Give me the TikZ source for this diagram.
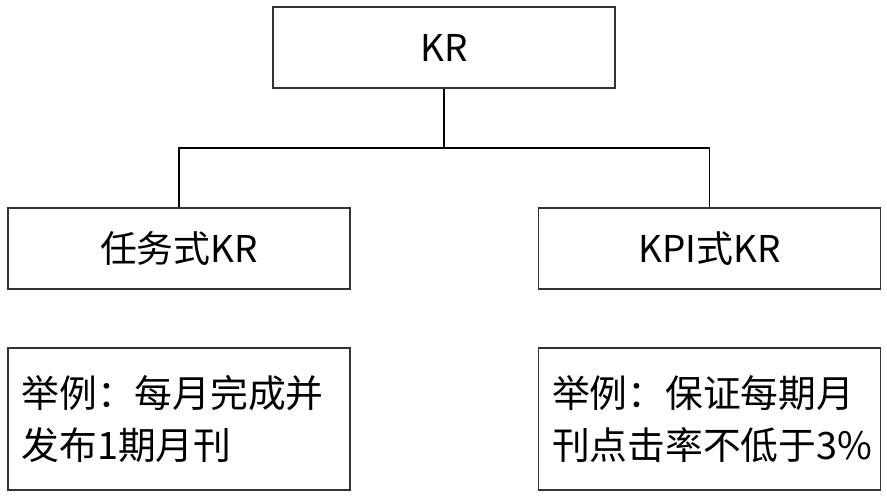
\documentclass[tikz,border=0pt]{standalone}
\usepackage{fontspec}
\setmainfont{Liberation Sans}
\newfontfamily\cjk{Noto Sans CJK SC}
\usetikzlibrary{positioning}
\begin{document}
\begin{tikzpicture}[line width=1.1pt]
   \useasboundingbox (0,0) rectangle (17.74,-10.06);
   \tikzset{box/.style={draw=black!80,minimum width=6.84cm,minimum height=1.62cm,font=\cjk\fontsize{21}{25}\selectfont},
            note/.style={draw=black!80,minimum width=6.84cm,minimum height=2.84cm,text width=6.3cm,align=left,inner sep=0.25cm,font=\cjk\fontsize{21.5}{30}\selectfont}}
   \node (kr) [box] at (8.88,-0.95) {KR};
   \node (task) [box] at (3.58,-4.97) {任务式KR};
   \node (kpi) [box] at (14.19,-4.97) {KPI式KR};
   \node (ex1) [note] at (3.58,-8.38) {举例：每月完成并\\发布1期月刊};
   \node (ex2) [note] at (14.19,-8.38) {举例：保证每期月\\刊点击率不低于3\%};
   \coordinate (mid) at (8.88,-2.96);
   \draw (kr) -- (mid);
   \draw (mid) -| (task);
   \draw (mid) -| (kpi);
\end{tikzpicture}
\end{document}
